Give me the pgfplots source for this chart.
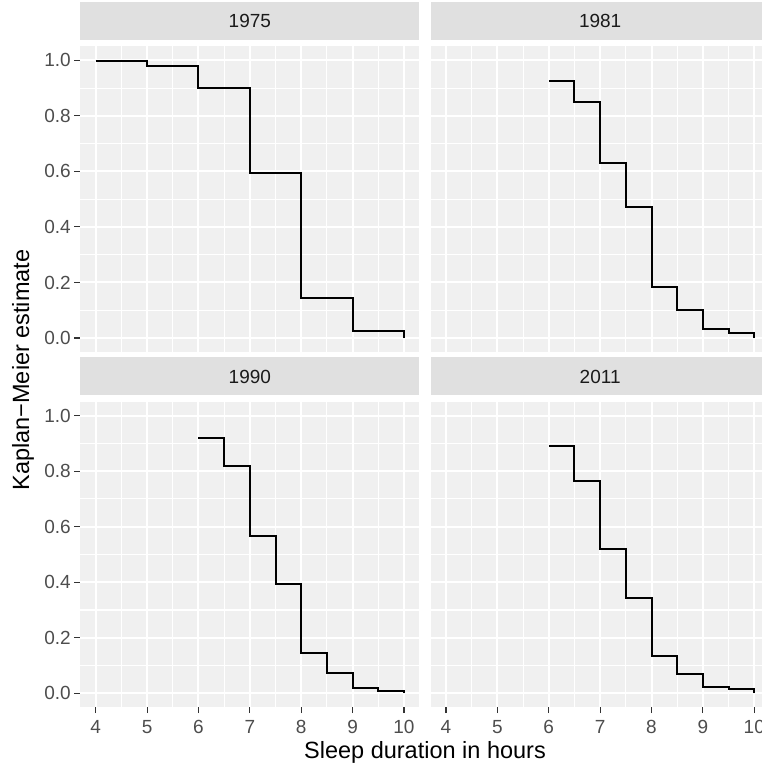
\documentclass[border=0pt]{standalone}
\usepackage{pgfplots}
\pgfplotsset{compat=1.18}
\usepackage{fontspec}
\setmainfont{Liberation Sans}
\definecolor{panelbg}{HTML}{F0F0F0}
\definecolor{stripbg}{HTML}{E0E0E0}
\definecolor{ticklab}{HTML}{4D4D4D}
\definecolor{tickcol}{HTML}{333333}
\definecolor{striptext}{HTML}{1A1A1A}

\pgfplotsset{
 facet/.style={
  scale only axis, width=339.1pt, height=305.5pt,
  xmin=3.7, xmax=10.3, ymin=-0.05, ymax=1.05,
  xtick={4,5,6,7,8,9,10}, ytick={0,0.2,0.4,0.6,0.8,1},
  minor xtick={4.5,5.5,6.5,7.5,8.5,9.5}, minor ytick={0.1,0.3,0.5,0.7,0.9},
  grid=both,
  major grid style={white, line width=2pt},
  minor grid style={white, line width=1.1pt},
  axis line style={draw=none},
  axis background/.style={fill=panelbg},
  tick align=outside, major tick length=6pt, minor tick length=0pt,
  tick style={tickcol, line width=1.1pt},
  tick pos=left,
  ticklabel style={font=\fontsize{19}{22}\selectfont, text=ticklab},
  /pgf/number format/assume math mode=true,
  y tick label style={/pgf/number format/.cd, fixed, fixed zerofill, precision=1},
  x tick label style={yshift=-4pt, /pgf/number format/.cd, fixed, precision=0},
  title style={at={(0.5,1)}, anchor=south, yshift=0pt, fill=stripbg,
    minimum width=339.1pt, minimum height=38pt, inner sep=0pt,
    text=striptext, font=\fontsize{19}{22}\selectfont},
  cycle list={{black, line width=2pt, const plot, no marks}},
 },
 nox/.style={xmajorticks=false},
 noy/.style={ymajorticks=false},
}

\pgfplotstableread{
x y
4 0.997
5 0.981
6 0.899
7 0.594
8 0.145
9 0.026
10 0.0
}\dataA
\pgfplotstableread{
x y
6 0.927
6.5 0.851
7 0.630
7.5 0.471
8 0.184
8.5 0.102
9 0.031
9.5 0.018
10 0.0
}\dataB
\pgfplotstableread{
x y
6 0.921
6.5 0.819
7 0.568
7.5 0.394
8 0.144
8.5 0.072
9 0.020
9.5 0.009
10 0.0
}\dataC
\pgfplotstableread{
x y
6 0.889
6.5 0.766
7 0.520
7.5 0.344
8 0.133
8.5 0.068
9 0.024
9.5 0.014
10 0.0
}\dataD

\begin{document}
\begin{tikzpicture}
\useasboundingbox (0,0) rectangle (762pt,766pt);
\clip (0,0) rectangle (762pt,766pt);

\begin{axis}[facet, nox, at={(80.3pt,414.1pt)}, anchor=south west, title={1975}]
\addplot[black, line width=2pt, const plot, no marks] table[x=x,y=y] {\dataA};
\end{axis}
\begin{axis}[facet, nox, noy, at={(430.6pt,414.1pt)}, anchor=south west, title={1981}]
\addplot[black, line width=2pt, const plot, no marks] table[x=x,y=y] {\dataB};
\end{axis}
\begin{axis}[facet, at={(80.3pt,58.8pt)}, anchor=south west, title={1990}]
\addplot[black, line width=2pt, const plot, no marks] table[x=x,y=y] {\dataC};
\end{axis}
\begin{axis}[facet, noy, at={(430.6pt,58.8pt)}, anchor=south west, title={2011}]
\addplot[black, line width=2pt, const plot, no marks] table[x=x,y=y] {\dataD};
\end{axis}

\node[rotate=90, font=\fontsize{23.5}{28}\selectfont] at (23pt,396pt) {Kaplan−Meier estimate};
\node[anchor=base, font=\fontsize{23.5}{28}\selectfont] at (425pt,7.7pt) {Sleep duration in hours};
\end{tikzpicture}
\end{document}
